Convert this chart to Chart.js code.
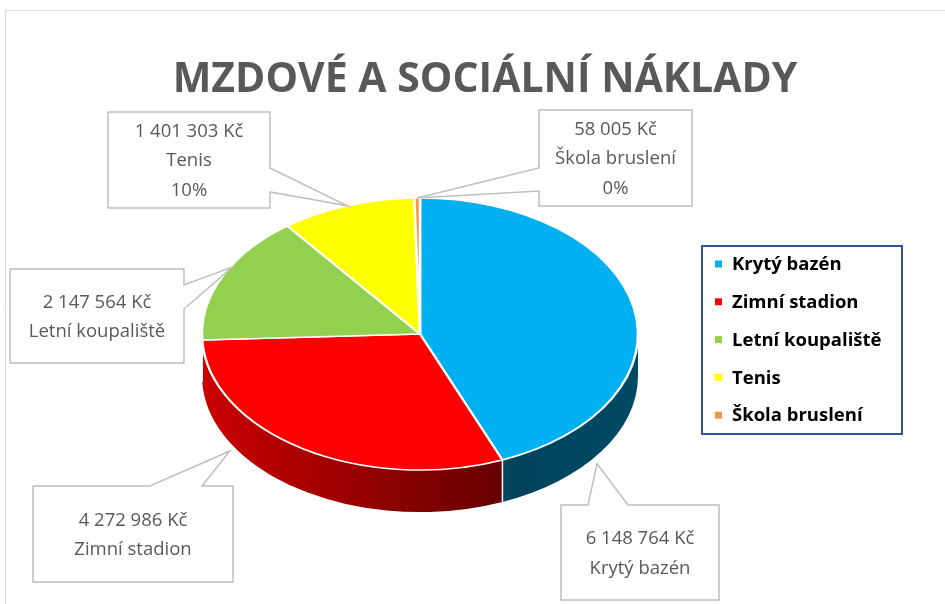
<!DOCTYPE html>
<html>
<head>
<meta charset="utf-8">
<script src="https://cdn.jsdelivr.net/npm/chart.js@4.4.0/dist/chart.umd.min.js"></script>
<style>
  html, body { margin: 0; padding: 0; background: #ffffff; }
  canvas { display: block; }
</style>
</head>
<body>
<canvas id="costChart" width="945" height="604"></canvas>
<script>
(function () {

// ---- data ---------------------------------------------------------------------------------------
var labels = ['Krytý bazén', 'Zimní stadion', 'Letní koupaliště', 'Tenis', 'Škola bruslení'];
var costs = [6148764, 4272986, 2147564, 1401303, 58005];
var colors = ['#00b0f0', '#ff0000', '#92d050', '#ffff00', '#f79646'];
var showPercent = [false, false, false, true, true];
var chartTitle = 'MZDOVÉ A SOCIÁLNÍ NÁKLADY';
var currency = 'Kč';

// ---- look of the fake 3D pie and the callouts ----------------------------------------------------
var TILT = 0.624;   // vertical squash of the pie
var DEPTH = 42;     // height of the side wall
var TEXT_GREY = '#595959';

// callout boxes (one per label, same order); tipDeg = clockwise from 12 o'clock, null = slice middle
var callouts = [
    { x: 561, y: 505, w: 158, h: 95, side: 'top',   b1: 588, b2: 628, tipDeg: 125.7, drop: 1.2 },
    { x: 33,  y: 486, w: 200, h: 96, side: 'top',   b1: 150, b2: 202, tipDeg: 240.7, drop: 1.2 },
    { x: 10,  y: 269, w: 174, h: 94, side: 'right', b1: 285, b2: 309, tipDeg: 300.5, drop: 0.05 },
    { x: 108, y: 112, w: 162, h: 96, side: 'right', b1: 168, b2: 192, tipDeg: null,  drop: 0 },
    { x: 539, y: 110, w: 153, h: 96, side: 'left',  b1: 168, b2: 191, tipDeg: null,  drop: 0 }
];

function shade(hex, f) {
    var n = parseInt(hex.slice(1), 16);
    var r = Math.round(((n >> 16) & 255) * f);
    var g = Math.round(((n >> 8) & 255) * f);
    var b = Math.round((n & 255) * f);
    return 'rgb(' + r + ',' + g + ',' + b + ')';
}

function fmt(v) {
    return String(v).replace(/\B(?=(\d{3})+(?!\d))/g, ' ') + ' ' + currency;
}

function geom(chart) {
    var p = chart.getDatasetMeta(0).data[0].getProps(['x', 'y', 'outerRadius'], true);
    return { cx: p.x, cy: p.y, r: p.outerRadius, ry: p.outerRadius * TILT };
}

// -------------------------------------------------------------------------------------------------
var pie3d = {
    id: 'pie3d',
    beforeDatasetsDraw: function (chart) {
        var ctx = chart.ctx, g = geom(chart);
        var arcs = chart.getDatasetMeta(0).data;

        // side wall, only the front half (canvas angles 0..PI)
        arcs.forEach(function (arc, i) {
            var a1 = Math.max(arc.startAngle, 0), a2 = Math.min(arc.endAngle, Math.PI);
            if (a2 <= a1) return;
            var grad = ctx.createLinearGradient(g.cx - g.r, 0, g.cx + g.r, 0);
            grad.addColorStop(0, shade(colors[i], 0.8));
            grad.addColorStop(0.72, shade(colors[i], 0.38));
            grad.addColorStop(1, shade(colors[i], 0.42));
            ctx.beginPath();
            ctx.ellipse(g.cx, g.cy, g.r, g.ry, 0, a1, a2);
            ctx.ellipse(g.cx, g.cy + DEPTH, g.r, g.ry, 0, a2, a1, true);
            ctx.closePath();
            ctx.fillStyle = grad;
            ctx.fill();
        });

        // white seams where slices meet on the wall
        ctx.save();
        ctx.strokeStyle = '#ffffff';
        ctx.lineWidth = 1.5;
        arcs.forEach(function (arc) {
            var a = arc.endAngle;
            if (a > 0.02 && a < Math.PI - 0.02) {
                var x = g.cx + g.r * Math.cos(a), y = g.cy + g.ry * Math.sin(a);
                ctx.beginPath();
                ctx.moveTo(x, y);
                ctx.lineTo(x, y + DEPTH);
                ctx.stroke();
            }
        });
        ctx.restore();

        // squash the top face
        ctx.save();
        ctx.translate(g.cx, g.cy);
        ctx.scale(1, TILT);
        ctx.translate(-g.cx, -g.cy);
    },
    afterDatasetsDraw: function (chart) {
        chart.ctx.restore();
    },
    afterDraw: function (chart) {
        var ctx = chart.ctx, g = geom(chart);
        var arcs = chart.getDatasetMeta(0).data;
        var total = costs.reduce(function (s, v) { return s + v; }, 0);

        ctx.save();

        // outer chart frame
        ctx.strokeStyle = '#d9d9d9';
        ctx.lineWidth = 1;
        ctx.beginPath();
        ctx.moveTo(5.5, 604);
        ctx.lineTo(5.5, 10.5);
        ctx.lineTo(945, 10.5);
        ctx.stroke();

        // title
        ctx.fillStyle = TEXT_GREY;
        ctx.font = 'bold 41px "Open Sans"';
        ctx.textAlign = 'center';
        ctx.textBaseline = 'alphabetic';
        ctx.fillText(chartTitle, 485, 92);

        // callouts
        callouts.forEach(function (c, i) {
            var arc = arcs[i];
            var t = c.tipDeg === null ? (arc.startAngle + arc.endAngle) / 2 : (c.tipDeg - 90) * Math.PI / 180;
            var tx = g.cx + g.r * Math.cos(t);
            var ty = g.cy + g.ry * Math.sin(t) + c.drop * DEPTH;
            var x0 = c.x, y0 = c.y, x1 = c.x + c.w, y1 = c.y + c.h;

            ctx.beginPath();
            ctx.moveTo(x0, y0);
            if (c.side === 'top') { ctx.lineTo(c.b1, y0); ctx.lineTo(tx, ty); ctx.lineTo(c.b2, y0); }
            ctx.lineTo(x1, y0);
            if (c.side === 'right') { ctx.lineTo(x1, c.b1); ctx.lineTo(tx, ty); ctx.lineTo(x1, c.b2); }
            ctx.lineTo(x1, y1);
            ctx.lineTo(x0, y1);
            if (c.side === 'left') { ctx.lineTo(x0, c.b2); ctx.lineTo(tx, ty); ctx.lineTo(x0, c.b1); }
            ctx.closePath();
            ctx.fillStyle = '#ffffff';
            ctx.fill();
            ctx.strokeStyle = '#bfbfbf';
            ctx.lineWidth = 1.5;
            ctx.lineJoin = 'miter';
            ctx.stroke();

            var lines = [fmt(costs[i]), labels[i]];
            if (showPercent[i]) lines.push(Math.round(costs[i] / total * 100) + '%');
            var lh = 29.5;
            var yStart = (y0 + y1) / 2 - (lines.length - 1) * lh / 2;
            ctx.fillStyle = TEXT_GREY;
            ctx.font = '18.5px "Open Sans"';
            ctx.textAlign = 'center';
            ctx.textBaseline = 'middle';
            lines.forEach(function (s, k) {
                ctx.fillText(s, (x0 + x1) / 2, yStart + k * lh + 1);
            });
        });

        // legend
        ctx.strokeStyle = '#2f5597';
        ctx.lineWidth = 2;
        ctx.strokeRect(702, 246, 200, 188);
        ctx.font = 'bold 18.5px "Open Sans"';
        ctx.textAlign = 'left';
        ctx.textBaseline = 'middle';
        labels.forEach(function (lab, i) {
            var y = 264 + i * 37.8;
            ctx.fillStyle = colors[i];
            ctx.fillRect(715, y - 3.5, 7, 7);
            ctx.fillStyle = '#000000';
            ctx.fillText(lab, 732, y + 1);
        });

        ctx.restore();
    }
};

// -------------------------------------------------------------------------------------------------
try {
    var canvas = document.getElementById('costChart');
    new Chart(canvas.getContext('2d'), {
        type: 'pie',
        data: {
            labels: labels,
            datasets: [{
                data: costs,
                backgroundColor: colors,
                borderColor: '#ffffff',
                borderWidth: 2.5,
                clip: false
            }]
        },
        options: {
            responsive: false,
            animation: false,
            events: [],
            layout: { padding: { left: 200.75, right: 305.75, top: 114.75, bottom: 50.75 } },
            plugins: {
                legend: { display: false },
                title: { display: false },
                tooltip: { enabled: false }
            }
        },
        plugins: [pie3d]
    });
} catch (e) {
    console.log('Error in cost chart: ' + e);
}

})();
</script>
</body>
</html>
